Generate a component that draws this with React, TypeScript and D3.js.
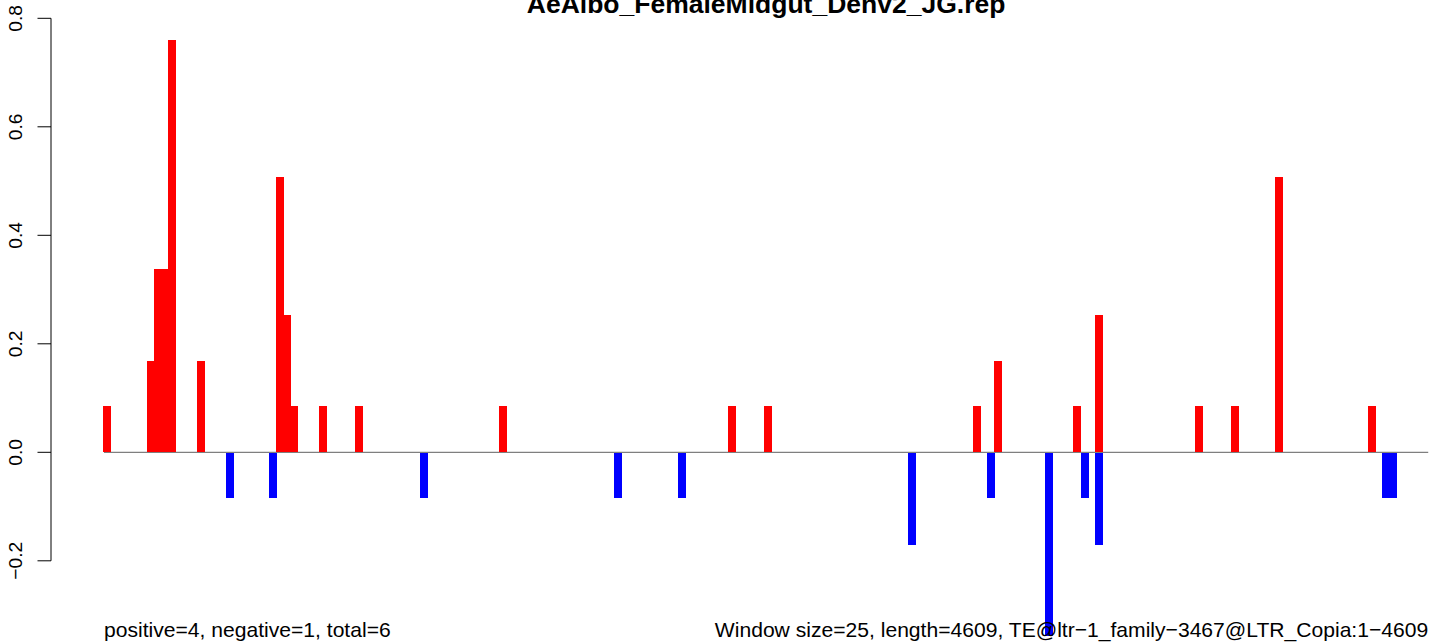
import React from "react";
import * as d3 from "d3";

// ---- data ----
const WINDOW_SIZE = 25;
const SEQ_LENGTH = 4609;
const TITLE = "AeAlbo_FemaleMidgut_Denv2_JG.rep";
const LEFT_NOTE = "positive=4, negative=1, total=6";
const RIGHT_NOTE = "Window size=25, length=4609, TE@ltr\u22121_family\u22123467@LTR_Copia:1\u22124609";
const Y_TICKS = [-0.2, 0, 0.2, 0.4, 0.6, 0.8];

// window index (1-based) and value
const posWindows = [1, 7, 8, 9, 10, 14, 25, 26, 27, 31, 36, 56, 88, 93, 122, 125, 136, 139, 153, 158, 164, 177];
const posValues = [0.0845, 0.169, 0.338, 0.338, 0.7605, 0.169, 0.507, 0.2535, 0.0845, 0.0845, 0.0845, 0.0845, 0.0845, 0.0845, 0.0845, 0.169, 0.0845, 0.2535, 0.0845, 0.0845, 0.507, 0.0845];
const negWindows = [18, 24, 45, 72, 81, 113, 124, 132, 137, 139, 179, 180];
const negValues = [-0.085, -0.085, -0.085, -0.085, -0.085, -0.17, -0.085, -0.339, -0.085, -0.17, -0.085, -0.085];

const W = 1429;
const H = 643;
const FONT = "'Liberation Sans', Arial, Helvetica, sans-serif";

export default function App() {
  const span = SEQ_LENGTH - 1;
  const x = d3
    .scaleLinear()
    .domain([1 - 0.04 * span, SEQ_LENGTH + 0.04 * span])
    .range([51, 1481.2]);
  const y = d3.scaleLinear().domain([0, 0.8]).range([452.3, 18.3]);
  const mid = (k: number) => WINDOW_SIZE * (k - 1) + 13;
  const barW = 8;

  const pos = posWindows.map((k, i) => ({ k, v: posValues[i] }));
  const neg = negWindows.map((k, i) => ({ k, v: negValues[i] }));
  const fmt = (t: number) => (t < 0 ? "\u2212" : "") + Math.abs(t).toFixed(1);
  const plotLeft = x.range()[0];
  const plotCenter = (x.range()[0] + x.range()[1]) / 2;

  return (
    <div style={{ position: "fixed", left: 0, top: 0, width: W, height: H, background: "#fff" }}>
      <svg width={W} height={H} style={{ display: "block" }} fontFamily={FONT}>
        <rect x={0} y={0} width={W} height={H} fill="#fff" />
        {/* zero line */}
        <line x1={x(1)} x2={x(SEQ_LENGTH)} y1={y(0)} y2={y(0)} stroke="#7f7f7f" strokeWidth={1.3} />
        {/* bars */}
        {pos.map((d, i) => (
          <rect
            key={"p" + i}
            x={x(mid(d.k)) - barW / 2}
            y={y(d.v)}
            width={barW}
            height={y(0) - y(d.v)}
            fill="#ff0000"
            shapeRendering="crispEdges"
          />
        ))}
        {neg.map((d, i) => (
          <rect
            key={"n" + i}
            x={x(mid(d.k)) - barW / 2}
            y={y(0) + 0.8}
            width={barW}
            height={y(d.v) - y(0) - 0.8}
            fill="#0000ff"
            shapeRendering="crispEdges"
          />
        ))}
        {/* y axis */}
        <line x1={plotLeft} x2={plotLeft} y1={y(0.8)} y2={y(-0.2)} stroke="#000" strokeWidth={1} />
        {Y_TICKS.map((t) => (
          <g key={t}>
            <line x1={plotLeft - 13.5} x2={plotLeft} y1={y(t)} y2={y(t)} stroke="#000" strokeWidth={1} />
            <text
              transform={`translate(21.5,${y(t)}) rotate(-90)`}
              textAnchor="middle"
              fontSize={19.2}
              fill="#000"
            >
              {fmt(t)}
            </text>
          </g>
        ))}
        {/* title */}
        <text x={plotCenter} y={12.5} textAnchor="middle" fontSize={26.5} fontWeight="bold" fill="#000">
          {TITLE}
        </text>
        {/* bottom notes */}
        <text x={x(1)} y={636.7} textAnchor="start" fontSize={21.1} fill="#000">
          {LEFT_NOTE}
        </text>
        <text x={x(SEQ_LENGTH)} y={636.7} textAnchor="end" fontSize={21.1} fill="#000">
          {RIGHT_NOTE}
        </text>
      </svg>
    </div>
  );
}
